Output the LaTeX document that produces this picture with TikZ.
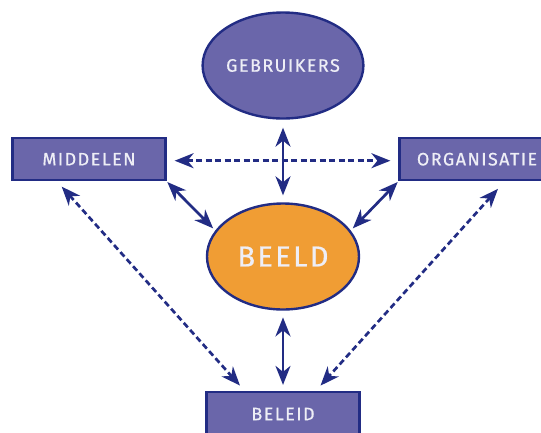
\documentclass[tikz,border=0pt]{standalone}
\usepackage{fontspec}
\setmainfont{Fira Sans}
\newfontfamily\lblfont[LetterSpace=8,FakeBold=0.6]{Fira Sans}
\usetikzlibrary{shapes.geometric,arrows.meta}
\definecolor{boxfill}{HTML}{6A66AA}
\definecolor{navy}{HTML}{222C84}
\definecolor{beeldorange}{HTML}{F09D34}
\definecolor{lbltext}{HTML}{EEEEF6}
\tikzset{
  ovalnode/.style={ellipse, draw=navy, line width=2.4pt, fill=boxfill, inner sep=0pt,
     minimum width=152pt, minimum height=106pt, text=lbltext, font=\lblfont\fontsize{18}{21}\selectfont},
  boxnode/.style={rectangle, draw=navy, line width=2.2pt, fill=boxfill, inner sep=0pt,
     minimum width=153pt, minimum height=42pt, text=lbltext, font=\lblfont\fontsize{18}{21}\selectfont},
  link/.style={navy, line width=2.7pt, {Stealth[length=19pt,width=15pt,inset=6pt]}-{Stealth[length=19pt,width=15pt,inset=6pt]}},
  dlink/.style={link, dash pattern=on 6pt off 3.5pt}
}
\begin{document}
\begin{tikzpicture}[x=1pt,y=-1pt]
\useasboundingbox (0,0) rectangle (541,432);
\node[ovalnode] (geb) at (283,65.5) {GEBRUIKERS};
\node[ovalnode, fill=beeldorange, font=\lblfont\fontsize{29}{34}\selectfont] (beeld) at (283,256.5) {BEELD};
\node[boxnode] (mid) at (89,159.2) {MIDDELEN};
\node[boxnode, minimum width=155pt] (org) at (477,159.2) {ORGANISATIE};
\node[boxnode, minimum height=44pt] (bel) at (283,414) {BELEID};

\draw[link, shorten <=8pt, shorten >=7pt] (geb.south) -- (beeld.north);
\draw[dlink, shorten <=8pt, shorten >=8pt] ([yshift=-1.5pt]mid.east) -- ([yshift=-1.5pt]org.west);
\draw[link, shorten <=1pt, shorten >=3pt] (mid.south east) -- (beeld.159);
\draw[link, shorten <=1pt, shorten >=3pt] (org.south west) -- (beeld.21);
\draw[dlink] ([xshift=-27.3pt,yshift=-5.3pt]mid.south) -- ([xshift=-43pt,yshift=5.3pt]bel.north);
\draw[dlink] ([xshift=21pt,yshift=-7.5pt]org.south) -- ([xshift=37.5pt,yshift=5.3pt]bel.north);
\draw[link, shorten <=6.7pt, shorten >=6pt] (beeld.south) -- (bel.north);
\end{tikzpicture}
\end{document}
